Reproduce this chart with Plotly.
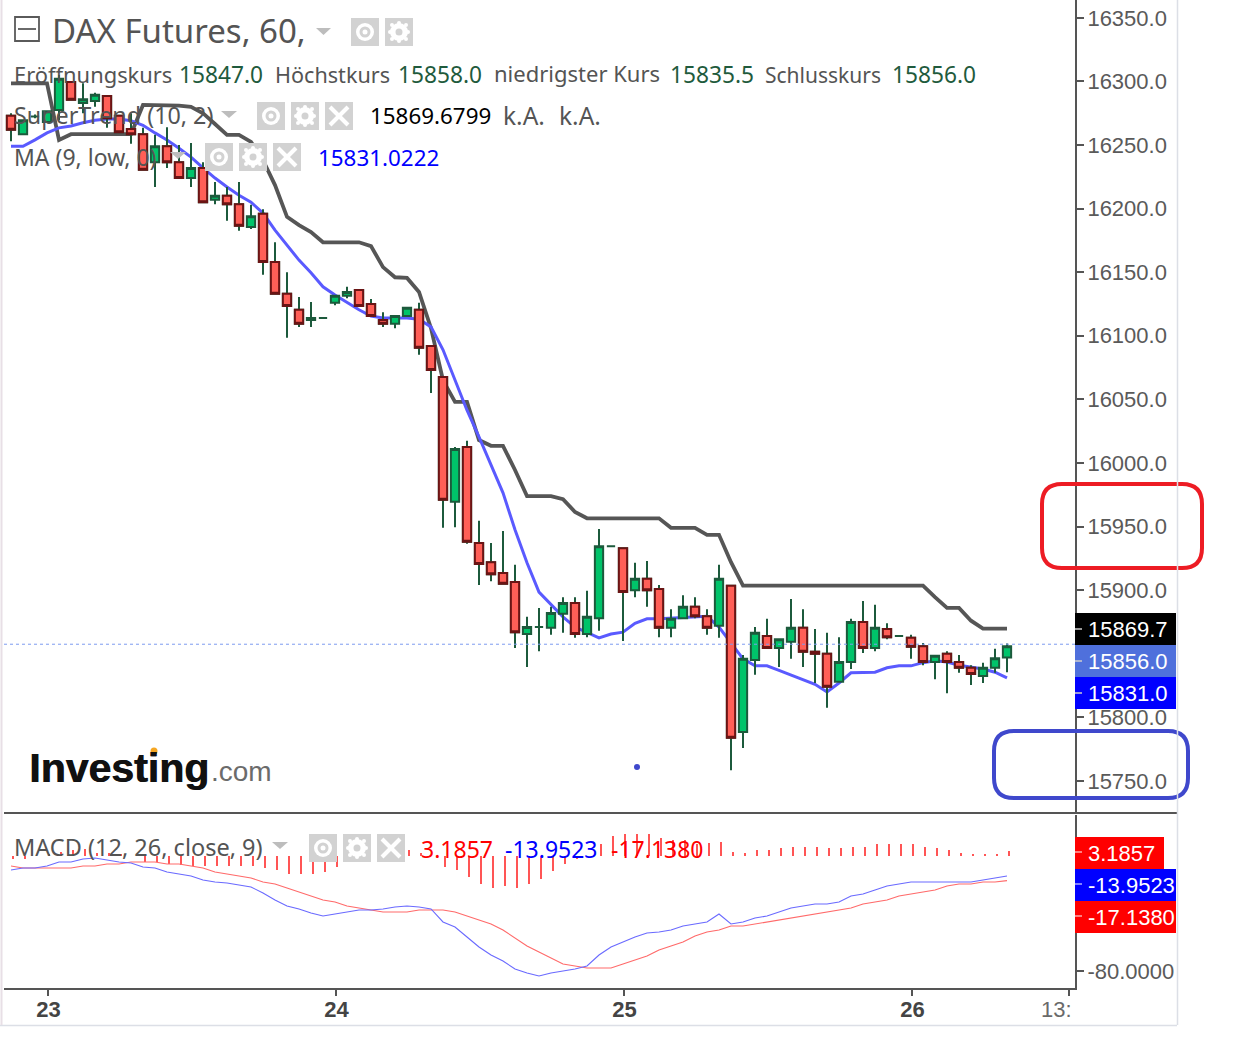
import plotly.graph_objects as go

W, H = 1245, 1059

# ---- data -----------------------------------------------------------------
opens = [16273,16258.5,16272.5,16268,16277.5,16299.5,16283,16284.5,16288.5,16273,
         16262.5,16258.5,16236.5,16249,16236.5,16224,16232,16207,16210,16203.5,
         16185.5,16196,16158,16133,16120.5,16112.5,16114,16126,16131.5,16136,
         16125,16112.5,16109.5,16115.5,16120.5,16092,16067.5,15969.5,16012.5,15937,
         15922,15913.5,15906.5,15865.5,15871,15870.5,15881.5,15890,15865.5,15878,
         15934.5,15933,15900,15909,15901,15870.5,15878,15887,15879.5,15872,
         15903.5,15788.5,15845,15864,15854.5,15859.5,15870.5,15851.5,15850,15828,
         15843.5,15875,15854.5,15869.5,15864,15862.5,15856,15843.5,15850,15843.5,
         15839,15832.5,15839,15847]
highs = [16275,16270,16274,16276.5,16305,16299.5,16298.5,16291,16288.5,16273,
         16275,16263.5,16258,16264,16250,16251.5,16236.5,16221,16217,16221,
         16203,16199.5,16173.5,16150,16130.5,16126.5,16114,16132,16138.5,16136,
         16129,16118.5,16115.5,16122,16126,16092,16067.5,16012.5,16017.5,15954.5,
         15937,15946.5,15920,15879,15886,15887,15894.5,15894.5,15899.5,15948,
         15934.5,15933,15921.5,15923,15904,15885,15896,15894.5,15885,15920,
         15903.5,15849,15871,15877.5,15861.5,15893,15885,15869.5,15866.5,15863,
         15877.5,15891.5,15888.5,15874,15864,15865,15858.5,15848.5,15852,15849,
         15841,15843,15854,15858]
lows = [16253,16258.5,16271,16268,16269.5,16285.5,16275,16280,16263.5,16260,
        16251,16230.5,16217,16232,16224,16217,16205,16203.5,16190.5,16182.5,
        16184,16148,16133,16098.5,16107,16107,16114,16124,16129.5,16123.5,
        16115.5,16107,16106,16115.5,16085,16055,15949,15949.5,15936.5,15904,
        15907,15905,15854.5,15839.5,15852,15865,15866.5,15862.5,15863,15868,
        15934.5,15860,15894.5,15887,15863,15863,15878,15878,15865,15862.5,
        15758.5,15776,15833.5,15854.5,15839.5,15846,15839.5,15827,15807.5,15828,
        15838,15850.5,15852,15861.5,15864,15846,15841,15830,15819,15835,
        15825.5,15827,15835,15835.5]
closes = [16262,16269.5,16272.5,16276.5,16302,16285.5,16286,16289.5,16271,16260,
          16258.5,16230.5,16249,16236.5,16224,16232,16205,16210,16203.5,16186.5,
          16194,16158,16133,16123.5,16109.5,16114,16114,16131.5,16134.5,16123.5,
          16115.5,16109.5,16115.5,16122,16090.5,16073,15971,16011,15938,15920.5,
          15912.5,15905,15867,15871,15871,15882,15890,15865.5,15879,15934.5,
          15934.5,15898.5,15909,15900,15870.5,15877.5,15887,15879.5,15870.5,15909,
          15784,15846,15866.5,15854.5,15861.5,15870.5,15851.5,15850,15824,15843.5,
          15875,15854.5,15870.5,15863,15864,15855.5,15843.5,15848.5,15843.5,15839,
          15834,15839,15846.5,15856]

supertrend = [16298.5,16298.5,16298.5,16298.5,16254,16258.5,16258.5,16258.5,16258.5,16258.5,
              16258.5,16281.5,16281.5,16281,16281,16280,16275,16266.5,16258,16258,
              16252.5,16238,16218.5,16193.5,16187,16181.5,16173.5,16173.5,16173.5,16173.5,
              16170.5,16154,16146,16145.5,16134.5,16106,16065,16048,16048,16018,
              16013.5,16013.5,15994.5,15974,15974,15974,15971.5,15961.5,15956.5,15956.5,
              15956.5,15956.5,15956.5,15956.5,15956.5,15949,15949,15949,15943.5,15943.5,
              15922,15903.5,15903.5,15903.5,15903.5,15903.5,15903.5,15903.5,15903.5,15903.5,
              15903.5,15903.5,15903.5,15903.5,15903.5,15903.5,15903.5,15894.5,15886,15886,
              15876,15869.7,15869.7,15869.7]
ma_low = [16249,16249,16254,16259.5,16263.5,16265,16267.5,16269.5,16270.5,16270.5,
          16269,16265.5,16259.5,16254,16247.5,16240.5,16232,16224,16217,16210.5,
          16205,16196.5,16183,16171.5,16159.5,16149.5,16138.5,16132,16126,16120.5,
          16115.5,16114,16114,16114,16113,16107,16089,16065,16041.5,16020.5,
          15998.5,15976.5,15947.5,15921.5,15898.5,15888.5,15879,15871,15866.5,15862.5,
          15865.5,15867,15874,15877.5,15877.5,15878,15879,15879.5,15879.5,15871,
          15858.5,15846,15840.5,15840.5,15837,15833.5,15829.5,15826,15820,15827,
          15835,15835.5,15835.5,15839,15840.5,15840.5,15843,15844.5,15843.5,15841,
          15839.5,15838,15835.5,15831]
last_price_guide = 15857.5

macd = [-9.78,-8.39,-8.39,-7.01,-4.23,-4.23,-2.14,-1.45,-2.84,-4.23,
        -4.92,-7.70,-8.39,-11.17,-12.56,-13.95,-16.73,-18.12,-18.81,-20.2,
        -21.59,-25.75,-30.62,-34.78,-36.87,-39.64,-41.73,-40.34,-38.95,-37.56,
        -37.56,-36.87,-35.48,-34.78,-35.48,-36.87,-45.89,-49.37,-56.31,-63.25,
        -68.81,-72.97,-78.53,-81.31,-83.39,-81.31,-79.92,-78.53,-76.45,-68.81,
        -63.25,-59.78,-56.31,-53.53,-52.84,-51.45,-48.67,-47.28,-45.89,-40.34,
        -47.28,-45.89,-43.12,-41.73,-38.95,-36.17,-34.78,-33.39,-33.39,-32.0,
        -27.84,-26.45,-23.67,-20.89,-19.51,-18.12,-18.12,-18.12,-18.12,-18.12,
        -18.12,-16.73,-15.34,-13.95]
signal = [-7.01,-8.39,-8.39,-8.39,-8.39,-8.39,-7.01,-7.01,-5.62,-5.62,
          -4.23,-4.23,-4.23,-5.62,-5.62,-7.01,-8.39,-11.17,-12.56,-13.95,
          -15.34,-18.12,-19.51,-22.28,-25.06,-27.84,-30.62,-32.0,-34.78,-36.17,
          -37.56,-38.95,-38.95,-38.95,-37.56,-37.56,-37.56,-38.95,-41.73,-44.51,
          -47.28,-51.45,-57.0,-62.56,-66.73,-70.89,-75.06,-76.45,-77.84,-77.84,
          -77.84,-75.06,-72.28,-69.51,-65.34,-62.56,-59.78,-55.62,-52.84,-51.45,
          -48.67,-48.67,-47.28,-45.89,-44.51,-43.12,-41.73,-40.34,-38.95,-37.56,
          -36.17,-33.39,-32.0,-30.62,-27.84,-26.45,-25.06,-23.67,-20.89,-19.51,
          -19.51,-18.12,-18.12,-17.14]
histogram = [-2.1,-2.1,0,1.0,2.8,4.2,4.9,2.1,2.1,0.7,
             0,-4.2,-4.2,-5.6,-6.2,-6.9,-6.9,-6.9,-6.9,-6.9,
             -6.9,-8.3,-9.7,-12.5,-12.5,-12.5,-11.1,-7.6,-3.5,-1.4,
             0,2.1,2.8,4.2,2.1,0,-7.6,-9.7,-14.6,-19.4,
             -22.2,-20.8,-22.2,-19.4,-16.0,-10.4,-5.6,-2.1,0,8.3,
             13.9,15.3,15.3,15.3,12.5,11.1,11.1,8.3,9.0,9.7,
             2.8,2.1,4.2,4.2,5.6,6.2,6.2,6.2,5.6,5.6,
             6.2,6.2,8.3,8.3,8.3,8.3,6.2,5.6,4.2,2.1,
             1.0,1.0,1.0,3.19]

bars = list(range(len(closes)))
price_ticks = [16350,16300,16250,16200,16150,16100,16050,16000,15950,15900,15800,15750]
price_tick_text = [f"{v:.1f}" for v in price_ticks]
macd_ticks = [-80]
macd_tick_text = ["-80.0000"]
day_ticks = [3.12, 27.12, 51.12, 75.12, 88.17]
day_labels = ["<b>23</b>", "<b>24</b>", "<b>25</b>", "<b>26</b>", ""]

# ---- geometry and styles ---------------------------------------------------
GREY = "#555555"
TXT = "#545454"
VAL_GREEN = "#1f5b3d"
SANS = "Liberation Sans"
LEG = "Noto Sans"
x_range = [-0.583, 88.667]
y_range = [15724.8, 16364.0]
m_range = [-91.73, 28.41]


def px(x):
    return x / W


def py(y):
    return 1 - y / H


fig = go.Figure()

# Lines sit on the base subplot, candles on an overlay so they draw above them
fig.add_trace(go.Scatter(x=bars, y=supertrend, mode="lines",
                         line=dict(color="#565656", width=3.8), hoverinfo="skip"))
fig.add_trace(go.Scatter(x=bars, y=ma_low, mode="lines",
                         line=dict(color="#5a5aff", width=3), hoverinfo="skip"))

fig.add_trace(go.Candlestick(
    x=bars, open=opens, high=highs, low=lows, close=closes, xaxis="x3", yaxis="y3",
    hoverinfo="skip",
    increasing=dict(fillcolor="#00c46a", line=dict(color="#1c5a3c", width=2)),
    decreasing=dict(fillcolor="#ff5f57", line=dict(color="#1c5a3c", width=2))))
red_idx = [i for i in bars if closes[i] < opens[i]]
fig.add_trace(go.Candlestick(
    x=red_idx,
    open=[opens[i] for i in red_idx], close=[closes[i] for i in red_idx],
    high=[opens[i] for i in red_idx], low=[closes[i] for i in red_idx],
    xaxis="x3", yaxis="y3", hoverinfo="skip",
    decreasing=dict(fillcolor="#ff5f57", line=dict(color="#6a1414", width=2)),
    increasing=dict(fillcolor="#ff5f57", line=dict(color="#6a1414", width=2))))

fig.add_trace(go.Bar(x=bars, y=histogram, xaxis="x2", yaxis="y2", width=0.17, offset=0.08,
                     marker=dict(color="#ff5555", line=dict(width=0)), hoverinfo="skip"))
fig.add_trace(go.Scatter(x=bars, y=signal, xaxis="x2", yaxis="y2", mode="lines",
                         line=dict(color="#ff6a6a", width=1.1), hoverinfo="skip"))
fig.add_trace(go.Scatter(x=bars, y=macd, xaxis="x2", yaxis="y2", mode="lines",
                         line=dict(color="#6a6aff", width=1.1), hoverinfo="skip"))

shapes = []
annots = []


def text(x, y, s, color=TXT, size=22.7, font=LEG, anchor="left", shadow=None):
    f = dict(family=font, size=size, color=color)
    if shadow:
        f["shadow"] = shadow
    annots.append(dict(x=px(x), y=py(y), xref="paper", yref="paper", text=s, showarrow=False,
                       xanchor=anchor, yanchor="middle", align=anchor,
                       font=f, borderpad=0, borderwidth=0))


def rect(x0, y0, x1, y1, fill=None, line=None, lw=0):
    shapes.append(dict(type="rect", xref="paper", yref="paper", x0=px(x0), x1=px(x1),
                       y0=py(y0), y1=py(y1), fillcolor=fill or "rgba(0,0,0,0)",
                       line=dict(color=line or "rgba(0,0,0,0)", width=lw)))


def seg(x0, y0, x1, y1, color, lw=1, dash=None):
    shapes.append(dict(type="line", xref="paper", yref="paper", x0=px(x0), x1=px(x1),
                       y0=py(y0), y1=py(y1), line=dict(color=color, width=lw, dash=dash or "solid")))


def circle(cx, cy, r, fill):
    shapes.append(dict(type="circle", xref="paper", yref="paper", x0=px(cx - r), x1=px(cx + r),
                       y0=py(cy - r), y1=py(cy + r), fillcolor=fill, line=dict(width=0)))


def rounded(x0, y0, x1, y1, r, color, lw=4):
    p = (f"M {px(x0+r)} {py(y0)} L {px(x1-r)} {py(y0)} Q {px(x1)} {py(y0)} {px(x1)} {py(y0+r)} "
         f"L {px(x1)} {py(y1-r)} Q {px(x1)} {py(y1)} {px(x1-r)} {py(y1)} "
         f"L {px(x0+r)} {py(y1)} Q {px(x0)} {py(y1)} {px(x0)} {py(y1-r)} "
         f"L {px(x0)} {py(y0+r)} Q {px(x0)} {py(y0)} {px(x0+r)} {py(y0)} Z")
    shapes.append(dict(type="path", xref="paper", yref="paper", path=p, line=dict(color=color, width=lw)))


def tri(x0, x1, y0, y1):
    p = f"M {px(x0)} {py(y0)} L {px(x1)} {py(y0)} L {px((x0+x1)/2)} {py(y1)} Z"
    shapes.append(dict(type="path", xref="paper", yref="paper", path=p,
                       fillcolor="#bdbdbd", line=dict(width=0)))


ICON = "#d2d2d2"


def eye(x, y):
    rect(x, y, x + 28, y + 28, ICON)
    circle(x + 14, y + 14, 9, "white")
    circle(x + 14, y + 14, 5.5, ICON)
    circle(x + 14, y + 14, 2.5, "white")


def gear(x, y):
    rect(x, y, x + 28, y + 28, ICON)
    circle(x + 14, y + 14, 9, "white")
    for dx, dy in [(-9, 0), (9, 0), (0, -9), (0, 9), (-7, -7), (7, 7), (-7, 7), (7, -7)]:
        circle(x + 14 + dx, y + 14 + dy, 2, "white")
    circle(x + 14, y + 14, 3.5, ICON)


def cross(x, y):
    rect(x, y, x + 28, y + 28, ICON)
    seg(x + 5, y + 5, x + 23, y + 23, "white", 4)
    seg(x + 5, y + 23, x + 23, y + 5, "white", 4)


# header
rect(15, 17, 39, 41, None, "#5a5a5a", 1.8)
seg(18, 29, 36, 29, "#5a5a5a", 1.8)
text(52, 30, "DAX Futures, 60,", size=33)
tri(316, 331, 28, 35)
eye(351, 18)
gear(385, 18)

# OHLC row
for x, y, s, c, sz in [(14, 74.5, "Eröffnungskurs", TXT, 21.9), (179, 74.5, "15847.0", VAL_GREEN, 22.7),
                       (275, 74.5, "Höchstkurs", TXT, 21.6), (398, 74.5, "15858.0", VAL_GREEN, 22.7),
                       (494, 73.5, "niedrigster Kurs", TXT, 22), (670, 74.5, "15835.5", VAL_GREEN, 22.7),
                       (765, 74.5, "Schlusskurs", TXT, 21), (892, 74.5, "15856.0", VAL_GREEN, 22.7)]:
    text(x, y, s, c, sz)

# indicator rows
text(14, 115, "SuperTrend (10, 2)", size=23.3)
tri(221, 237, 111, 118)
eye(257, 102); gear(291, 102); cross(325, 102)
text(370, 115.5, "15869.6799", "#000000", 22.4)
text(503, 115.5, "k.A.", size=24.5)
text(559, 115.5, "k.A.", size=24.5)

text(14, 156.5, "MA (9, low, 0)", size=23)
tri(170, 186, 152, 159)
eye(205, 143); gear(239, 143); cross(273, 143)
text(318, 157, "15831.0222", "#0000ff", 22.4)

text(14, 847, "MACD (12, 26, close, 9)", size=23.5)
tri(272, 288, 842, 849)
eye(309, 834); gear(343, 834); cross(377, 834)
text(421, 848.5, "3.1857", "#ff0000", 23)
text(505, 848.5, "-13.9523", "#0000ff", 23)
text(611, 848.5, "-17.1380", "#ff0000", 23)

# logo
text(29, 768, "<b>Investing</b>", "#111111", 41, SANS, shadow="0.8px 0 0 #111111")
circle(154, 751, 3.5, "#f5a623")
text(211, 771, ".com", "#6b6b6b", 28, SANS)

# annotations drawn on the picture
rounded(1042, 484, 1202, 568, 20, "#ed1c24")
rounded(994, 731, 1188, 798, 20, "#3f48cc")
circle(637, 767, 3, "#3f48cc")

# last price guide
shapes.append(dict(type="line", xref="x", yref="y", x0=x_range[0], x1=x_range[1],
                   y0=last_price_guide, y1=last_price_guide,
                   line=dict(color="#7d9bf0", width=1, dash="dot")))

# frame
seg(4, 813, 1177, 813, GREY, 2)
seg(1177.5, 0, 1177.5, 1025, "#dcdfe6", 1.5)
seg(0, 1025.5, 1177, 1025.5, "#dcdfe6", 1.5)
seg(1.5, 0, 1.5, 1025, "#e8dfe6", 2)

# price tags
TAG_X0, TAG_X1 = 1075, 1176
for y0, y1, fill, s in [(613, 645, "#000000", "15869.7"), (645, 677, "#4f70dc", "15856.0"),
                        (677, 709, "#0000ff", "15831.0")]:
    rect(TAG_X0, y0, TAG_X1, y1, fill)
    seg(TAG_X0, (y0 + y1) / 2, TAG_X0 + 7, (y0 + y1) / 2, "#cccccc", 1.5)
    text(1088, (y0 + y1) / 2 + 0.5, s, "#ffffff", 22, SANS)
for y0, y1, x1, fill, s in [(837, 869, 1164, "#ff0000", "3.1857"), (869, 901, 1176, "#0000ff", "-13.9523"),
                            (901, 933, 1176, "#ff0000", "-17.1380")]:
    rect(TAG_X0, y0, x1, y1, fill)
    seg(TAG_X0, y0 + 15, TAG_X0 + 7, y0 + 15, "#ffaaaa" if fill != "#0000ff" else "#aaaaff", 1.5)
    text(1088, (y0 + y1) / 2 + 0.5, s, "#ffffff", 22, SANS)

text(1072, 1009, "13:", "#6a6a6a", 22, SANS, anchor="right")

dom_x = [px(4), px(1075)]
dom_main = [py(813), 1]
dom_macd = [py(988), py(815)]
TICK = dict(family=SANS, size=22, color="#5a5a5a")

fig.update_layout(
    width=W, height=H, autosize=False, showlegend=False,
    margin=dict(l=0, r=0, t=0, b=0, pad=0),
    paper_bgcolor="white", plot_bgcolor="white",
    bargap=0, boxmode="overlay", boxgap=0.31, boxgroupgap=0,
    shapes=shapes, annotations=annots,
    xaxis=dict(domain=dom_x, range=x_range, anchor="y", showgrid=False, zeroline=False,
               showticklabels=False, ticks="", fixedrange=True),
    yaxis=dict(domain=dom_main, range=y_range, anchor="x", side="right", showgrid=False, zeroline=False,
               tickmode="array", tickvals=price_ticks, ticktext=price_tick_text, ticks="outside",
               ticklen=7, tickwidth=1.5, tickcolor=GREY, tickfont=TICK, ticklabelstandoff=-1,
               showline=True, linecolor=GREY, linewidth=2, fixedrange=True),
    xaxis3=dict(domain=dom_x, range=x_range, overlaying="x", anchor="y3", visible=False,
                rangeslider=dict(visible=False), fixedrange=True),
    yaxis3=dict(domain=dom_main, range=y_range, overlaying="y", anchor="x3", side="right",
                visible=False, fixedrange=True),
    xaxis2=dict(domain=dom_x, range=x_range, anchor="y2", showgrid=False, zeroline=False,
                tickmode="array", tickvals=day_ticks, ticktext=day_labels, ticks="outside",
                ticklen=6, tickwidth=1.5, tickcolor=GREY, tickfont=dict(family=SANS, size=22, color="#444444"),
                ticklabelstandoff=-5,
                showline=True, linecolor=GREY, linewidth=2, fixedrange=True),
    yaxis2=dict(domain=dom_macd, range=m_range, anchor="x2", side="right", showgrid=False, zeroline=False,
                tickmode="array", tickvals=macd_ticks, ticktext=macd_tick_text, ticks="outside",
                ticklen=7, tickwidth=1.5, tickcolor=GREY, tickfont=TICK, ticklabelstandoff=-1,
                showline=True, linecolor=GREY, linewidth=2, fixedrange=True),
)

fig.write_html("out.html", config=dict(displayModeBar=False),
               post_script="document.body.style.margin='0';document.body.style.overflow='hidden';")
